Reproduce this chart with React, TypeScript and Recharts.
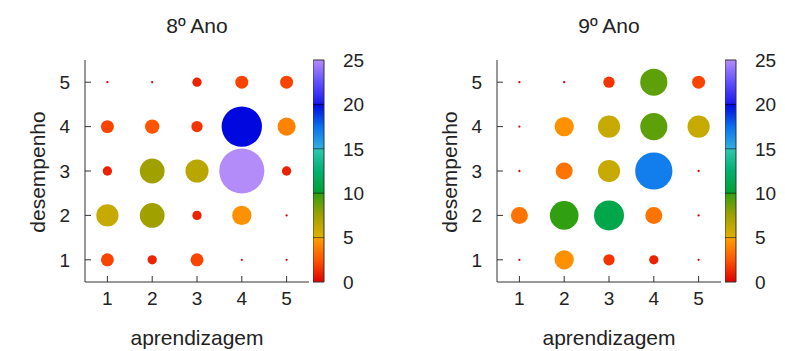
import React from "react";
import {
  ScatterChart,
  Scatter,
  XAxis,
  YAxis,
  ZAxis,
  Cell,
  BarChart,
  Bar,
  ReferenceLine,
} from "recharts";

const aprendizagem = [1, 2, 3, 4, 5];
const desempenho = [1, 2, 3, 4, 5];
const scaleTicks = [0, 5, 10, 15, 20, 25];
const scaleBreaks = [5, 10, 15, 20];

// rows: desempenho 1..5, columns: aprendizagem 1..5
const ano8 = [
  [2, 1, 2, 0, 0],
  [6, 7.5, 1, 4.5, 0],
  [1, 7.5, 6.5, 25, 1],
  [2, 2.5, 1.5, 20, 4],
  [0, 0, 1, 2, 2],
];

const ano9 = [
  [0, 4.5, 1.5, 1, 0],
  [3.5, 10, 11, 3.5, 0],
  [0, 3.5, 6, 17, 0],
  [0, 4.5, 6, 9, 6],
  [0, 0, 1.5, 9, 2],
];

// palette, piecewise per 5-unit band
const stops: [number, string][] = [
  [0, "#e00000"],
  [2.5, "#ff5500"],
  [5, "#ffa000"],
  [5, "#e0b000"],
  [7.5, "#a0a000"],
  [10, "#30a010"],
  [10, "#00a030"],
  [12.5, "#00b070"],
  [15, "#30c8b0"],
  [15, "#30b0e0"],
  [17.5, "#0a70f0"],
  [20, "#0008e0"],
  [20, "#1818f0"],
  [22.5, "#6050ff"],
  [25, "#b48cfa"],
];

const FONT = "'Liberation Sans', Arial, sans-serif";

const hex = (c: string) => [1, 3, 5].map((i) => parseInt(c.slice(i, i + 2), 16));

function colorFor(v: number) {
  for (let i = 0; i < stops.length - 1; i++) {
    const [a, ca] = stops[i];
    const [b, cb] = stops[i + 1];
    if (a < b && v >= a && v <= b) {
      const t = (v - a) / (b - a);
      const A = hex(ca);
      const B = hex(cb);
      const m = A.map((x, k) => Math.round(x + (B[k] - x) * t));
      return `rgb(${m[0]},${m[1]},${m[2]})`;
    }
  }
  return stops[stops.length - 1][1];
}

const toPoints = (m: number[][]) =>
  desempenho.flatMap((d, r) => aprendizagem.map((a, c) => ({ x: a, y: d, z: m[r][c] })));

const tickStyle = { fill: "#222", fontSize: 19, fontFamily: FONT };

function ColorBar({ id }: { id: string }) {
  return (
    <BarChart
      width={60}
      height={351}
      data={[{ name: "cb", v: 25 }]}
      margin={{ top: 60, right: 0, bottom: 69, left: 0 }}
      barCategoryGap={0}
    >
      <defs>
        <linearGradient id={id} x1="0" y1="1" x2="0" y2="0">
          {stops.map(([v, c], i) => (
            <stop key={i} offset={v / 25} stopColor={c} />
          ))}
        </linearGradient>
      </defs>
      <XAxis dataKey="name" hide />
      <YAxis
        orientation="right"
        type="number"
        domain={[0, 25]}
        ticks={scaleTicks}
        width={49}
        tickSize={0}
        tickMargin={19}
        axisLine={false}
        tick={tickStyle}
      />
      <Bar dataKey="v" fill={`url(#${id})`} stroke="#333" isAnimationActive={false} />
      {scaleBreaks.map((v) => (
        <ReferenceLine key={v} y={v} stroke="#000" strokeOpacity={0.55} />
      ))}
    </BarChart>
  );
}

function Panel({ title, values, left, id }: { title: string; values: number[][]; left: number; id: string }) {
  const pts = toPoints(values);
  const cx = left + 197;
  return (
    <>
      <div
        style={{
          position: "absolute",
          left: cx - 100,
          width: 200,
          top: 14,
          lineHeight: "24px",
          textAlign: "center",
          fontSize: 21,
          fontFamily: FONT,
          color: "#222",
        }}
      >
        {title}
      </div>
      <div style={{ position: "absolute", left, top: 0 }}>
        <ScatterChart width={320} height={351} margin={{ top: 60, right: 11, bottom: 20, left: 20 }}>
          <XAxis
            type="number"
            dataKey="x"
            domain={[0.5, 5.5]}
            ticks={aprendizagem}
            height={49}
            tickSize={-6}
            tickMargin={16}
            stroke="#333"
            tick={tickStyle}
            allowDataOverflow
          />
          <XAxis
            xAxisId="top"
            orientation="top"
            type="number"
            dataKey="x"
            domain={[0.5, 5.5]}
            ticks={aprendizagem}
            height={0}
            tickSize={-6}
            stroke="#333"
            tick={false}
            allowDataOverflow
          />
          <YAxis
            type="number"
            dataKey="y"
            domain={[0.5, 5.5]}
            ticks={desempenho}
            width={65}
            tickSize={-6}
            tickMargin={21}
            stroke="#333"
            tick={tickStyle}
            allowDataOverflow
          />
          <YAxis
            yAxisId="right"
            orientation="right"
            type="number"
            dataKey="y"
            domain={[0.5, 5.5]}
            ticks={desempenho}
            width={0}
            tickSize={-6}
            stroke="#333"
            tick={false}
            allowDataOverflow
          />
          <ZAxis dataKey="z" type="number" domain={[0, 25]} range={[4, 1600]} />
          <Scatter data={pts} isAnimationActive={false}>
            {pts.map((p, i) => (
              <Cell key={i} fill={colorFor(p.z)} />
            ))}
          </Scatter>
        </ScatterChart>
      </div>
      <div style={{ position: "absolute", left: left + 313, top: 0 }}>
        <ColorBar id={id} />
      </div>
      <div
        style={{
          position: "absolute",
          left: cx - 100,
          width: 200,
          top: 326,
          lineHeight: "24px",
          textAlign: "center",
          fontSize: 21,
          fontFamily: FONT,
          color: "#222",
        }}
      >
        aprendizagem
      </div>
      <div
        style={{
          position: "absolute",
          left: left + 38,
          top: 172,
          transform: "translate(-50%, -50%) rotate(-90deg)",
          whiteSpace: "nowrap",
          fontSize: 21,
          fontFamily: FONT,
          color: "#222",
        }}
      >
        desempenho
      </div>
    </>
  );
}

export default function App() {
  return (
    <div
      style={{
        position: "absolute",
        left: 0,
        top: 0,
        width: 785,
        height: 351,
        background: "#fff",
        overflow: "hidden",
      }}
    >
      <Panel title="8º Ano" values={ano8} left={0} id="cb8" />
      <Panel title="9º Ano" values={ano9} left={412} id="cb9" />
    </div>
  );
}
